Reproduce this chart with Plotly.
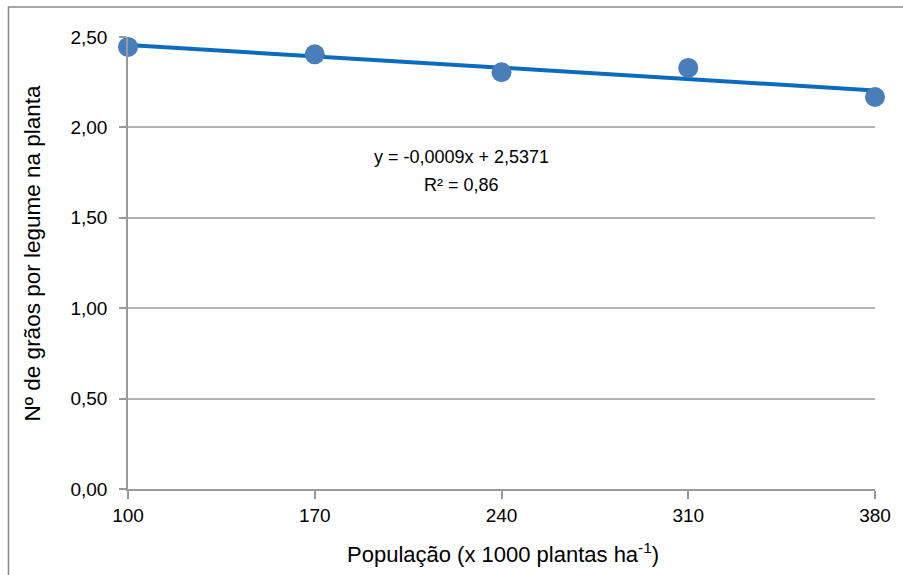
import numpy as np
import plotly.graph_objects as go

populacao = [100, 170, 240, 310, 380]
graos = [2.445, 2.404, 2.305, 2.329, 2.168]
x_ticks = [100, 170, 240, 310, 380]
y_ticks = [0, 0.5, 1.0, 1.5, 2.0, 2.5]
y_tick_labels = ["0,00", "0,50", "1,00", "1,50", "2,00", "2,50"]

slope, intercept = np.polyfit(populacao, graos, 1)
trend_x = [populacao[0], populacao[-1]]
trend_y = [slope * v + intercept for v in trend_x]

FONT = "Liberation Sans"
L, R, T, B = 128, 878, 37, 489
W, H = 903, 575


def px(xp):
    return (xp - L) / (R - L)


def py(yp):
    return (B - yp) / (B - T)


fig = go.Figure()
fig.add_trace(go.Scatter(x=trend_x, y=trend_y, mode="lines",
                         line=dict(color="#0B6BBF", width=4), cliponaxis=False,
                         showlegend=False, hoverinfo="skip"))
fig.add_trace(go.Scatter(x=populacao, y=graos, mode="markers",
                         marker=dict(color="#4A7EBB", size=20), cliponaxis=False,
                         showlegend=False))

fig.add_annotation(xref="paper", yref="paper", x=px(463), y=py(157),
                   xanchor="center", yanchor="middle",
                   text="y = -0,0009x + 2,5371", showarrow=False,
                   font=dict(family=FONT, size=18, color="#000"))
fig.add_annotation(xref="paper", yref="paper", x=px(463), y=py(185),
                   xanchor="center", yanchor="middle",
                   text="R² = 0,86", showarrow=False,
                   font=dict(family=FONT, size=18, color="#000"))

# axis titles
fig.add_annotation(xref="paper", yref="paper", x=px(505), y=py(553),
                   xanchor="center", yanchor="middle",
                   text="População (x 1000 plantas ha<sup>-1</sup>)", showarrow=False,
                   font=dict(family=FONT, size=22, color="#000"))
fig.add_annotation(xref="paper", yref="paper", x=px(33), y=py(253),
                   xanchor="center", yanchor="middle", textangle=-90,
                   text="Nº de grãos por legume na planta", showarrow=False,
                   font=dict(family=FONT, size=22.5, color="#000"))

# outer frame
fig.add_shape(type="rect", xref="paper", yref="paper",
              x0=px(8), x1=px(910), y0=py(580), y1=py(7),
              line=dict(color="#888888", width=1.5), layer="below")

fig.update_layout(
    width=W, height=H,
    margin=dict(l=L, r=W - R, t=T, b=H - B),
    paper_bgcolor="white", plot_bgcolor="white",
    font=dict(family=FONT, size=18, color="#000"),
    xaxis=dict(range=[100, 380], tickvals=x_ticks, ticktext=[str(v) for v in x_ticks],
               showgrid=False, zeroline=False, showline=True, linecolor="#999999", linewidth=1.5,
               ticks="outside", ticklen=8, tickcolor="#999999", tickwidth=1.5,
               tickfont=dict(size=19)),
    yaxis=dict(range=[0, 2.5], tickvals=y_ticks, ticktext=y_tick_labels,
               showgrid=True, gridcolor="#B3B3B3", gridwidth=1.5, zeroline=False,
               showline=True, linecolor="#999999", linewidth=1.5,
               ticks="outside", ticklen=7, tickcolor="#999999", tickwidth=1.5,
               tickfont=dict(size=19), ticklabelstandoff=8),
)

fig.write_html("out.html", config={"displayModeBar": False},
               post_script="document.body.style.margin='0';document.body.style.overflow='hidden';")
